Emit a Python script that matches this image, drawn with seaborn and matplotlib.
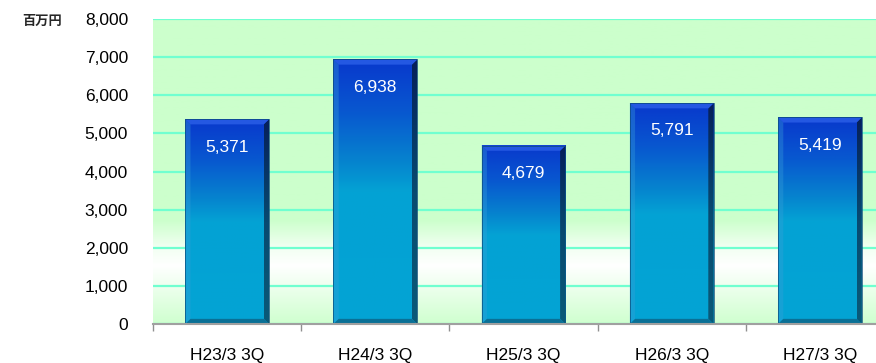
import numpy as np
import pandas as pd
import matplotlib
matplotlib.use("Agg")
import matplotlib.pyplot as plt
from matplotlib.colors import LinearSegmentedColormap
from matplotlib.patches import Polygon
from matplotlib.ticker import FuncFormatter, FixedLocator
import seaborn as sns

# data
periods = ["H23/3 3Q", "H24/3 3Q", "H25/3 3Q", "H26/3 3Q", "H27/3 3Q"]
sales = [5371, 6938, 4679, 5791, 5419]
unit_label = "百万円"

sns.set_style("white")
plt.rcParams["font.family"] = ["Liberation Sans", "Noto Sans CJK JP", "DejaVu Sans"]

df = pd.DataFrame({"period": periods, "sales": sales})

fig = plt.figure(figsize=(8.76, 3.63), dpi=100)
# plot area runs a little past the right edge of the picture, as in the original
ax = fig.add_axes([153 / 876, 39 / 363, 741 / 876, 305 / 363])

# background: light green fading to white near the bottom
bg_cmap = LinearSegmentedColormap.from_list(
    "bg", [(0.0, "#CFFFCF"), (0.11, "#EBFFEB"), (0.19, "#FFFFFF"),
           (0.25, "#F2FFF2"), (0.34, "#CCFFCC"), (1.0, "#CCFFCC")])
grad = np.linspace(0, 1, 256).reshape(-1, 1)
ax.imshow(grad, cmap=bg_cmap, aspect="auto", origin="lower",
          extent=[0, 1, 0, 1], transform=ax.transAxes, zorder=0)

sns.barplot(data=df, x="period", y="sales", color="#05A3D4", width=0.566,
            saturation=1, ax=ax, zorder=3)

ax.set_xlim(-0.5, len(periods) - 0.5)
ax.set_ylim(0, 8000)
ax.set_yticks(np.arange(0, 8001, 1000))
ax.yaxis.set_major_formatter(FuncFormatter(lambda v, p: f"{int(v):,}"))
ax.grid(axis="y", color="#70FFD0", linewidth=1.6, zorder=1)
ax.set_axisbelow(True)

# bar body gradient: dark blue on top to cyan halfway down
bar_cmap = LinearSegmentedColormap.from_list(
    "bar", [(0.0, "#03A4D4"), (0.5, "#04A2D4"), (0.62, "#0682CE"),
            (0.8, "#0858D0"), (1.0, "#0838CC")])
right_cmap = LinearSegmentedColormap.from_list(
    "right", [(0.0, "#0A5A78"), (0.5, "#084A70"), (1.0, "#06205A")])
dx, dy = 0.036, 135
for p in ax.patches:
    x0, w, h = p.get_x(), p.get_width(), p.get_height()
    x1 = x0 + w
    p.set_facecolor("none")
    p.set_edgecolor("none")
    ax.imshow(grad, cmap=bar_cmap, aspect="auto", origin="lower",
              extent=[x0, x1, 0, h], zorder=3)
    # bevels
    right = Polygon([(x1, h), (x1, 0), (x1 - dx, dy), (x1 - dx, h - dy)],
                    closed=True, facecolor="none", edgecolor="none", zorder=4)
    ax.add_patch(right)
    shade = ax.imshow(grad, cmap=right_cmap, aspect="auto", origin="lower",
                      extent=[x1 - dx, x1, 0, h], zorder=4)
    shade.set_clip_path(right)
    top = Polygon([(x0, h), (x1, h), (x1 - dx, h - dy), (x0 + dx, h - dy)],
                  closed=True, facecolor="#2458E2", edgecolor="none", zorder=4)
    left = Polygon([(x0, h), (x0, 0), (x0 + dx, dy), (x0 + dx, h - dy)],
                   closed=True, facecolor="#3AA0D8", edgecolor="none",
                   alpha=0.35, zorder=4)
    bottom = Polygon([(x0, 0), (x1, 0), (x1 - dx, dy), (x0 + dx, dy)],
                     closed=True, facecolor="#0A7096", edgecolor="none", zorder=4)
    for poly in (top, left, bottom):
        ax.add_patch(poly)
    ax.add_patch(plt.Rectangle((x0, 0), w, h, facecolor="none",
                               edgecolor="#0B4A7A", linewidth=0.5, zorder=5))

for i, v in enumerate(sales):
    ax.annotate(f"{v:,}", xy=(i, v), xytext=(0, -20), textcoords="offset points",
                ha="center", va="center", color="white", fontsize=12.5, zorder=6)

ax.set_xlabel("")
ax.set_ylabel("")
for side in ("top", "right", "left"):
    ax.spines[side].set_visible(False)
ax.spines["bottom"].set_color("#A0A0A0")
ax.spines["bottom"].set_linewidth(1.5)
ax.spines["bottom"].set_zorder(7)

ax.tick_params(axis="y", length=0, pad=18, labelsize=12.5, labelcolor="black")
ax.tick_params(axis="x", which="major", length=0, pad=17, labelsize=12.5,
               labelcolor="black")
ax.xaxis.set_minor_locator(FixedLocator(np.arange(-0.5, len(periods), 1.0)))
ax.tick_params(axis="x", which="minor", length=5, width=1, color="#909090",
               direction="out", bottom=True)

fig.text(22 / 876, 1 - 21 / 363, unit_label, ha="left", va="center",
         fontsize=9.5, fontweight="bold", family=["Noto Sans CJK JP", "DejaVu Sans"])

fig.savefig("out.png", dpi=100)
